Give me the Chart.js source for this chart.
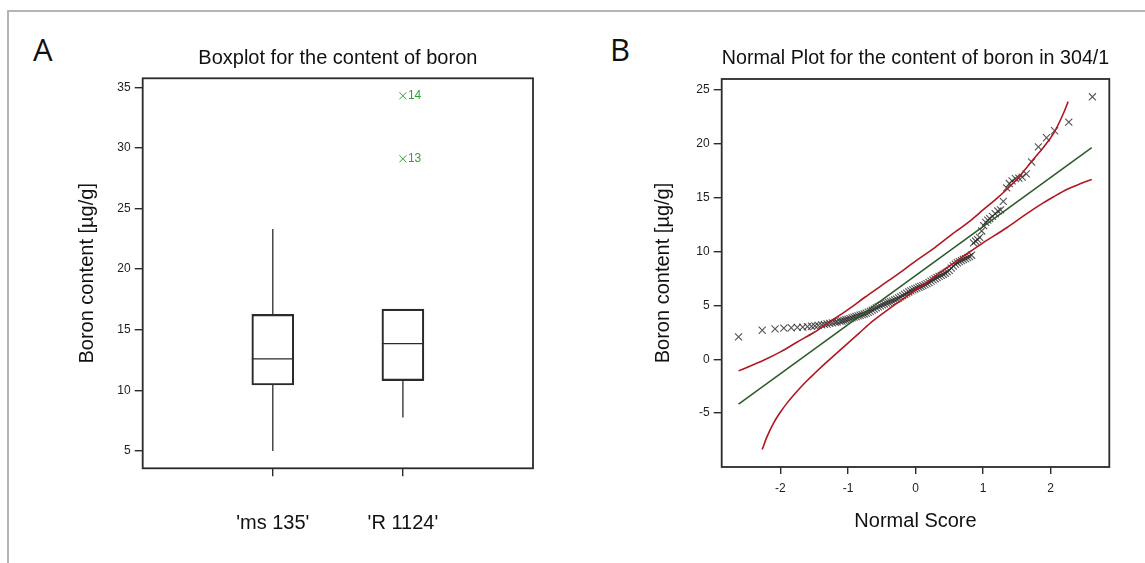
<!DOCTYPE html>
<html>
<head>
<meta charset="utf-8">
<script src="https://cdn.jsdelivr.net/npm/chart.js@4.4.1/dist/chart.umd.min.js"></script>
<style>
  html, body { margin: 0; padding: 0; background: #fff; }
  body { width: 1145px; height: 563px; position: relative; overflow: hidden; }
  .marco { position: absolute; left: 7px; top: 10px; right: -4px; bottom: -4px; border-top: 2px solid #b4b4b4; border-left: 2px solid #b4b4b4; }
  .letra { position: absolute; font-family: "Open Sans", sans-serif; font-size: 31px; line-height: 1; color: #111; }
  #panelA { position: absolute; left: 0; top: 0; }
  #panelB { position: absolute; left: 575px; top: 0; }
</style>
</head>
<body>
<div class="marco"></div>
<div class="letra" style="left:33px; top:34px;">A</div>
<div class="letra" style="left:610px; top:34px;">B</div>
<canvas id="panelA" width="575" height="563"></canvas>
<canvas id="panelB" width="570" height="563"></canvas>
<script>
// Panel A: diagrama de caja por cultivar
var cultivares = ["'ms 135'", "'R 1124'"];
var posiciones = [1, 2];
var minimos = [5.0, 7.77];
var cuartil1 = [10.44, 10.8];
var medianas = [12.6, 13.85];
var cuartil3 = [16.27, 16.7];
var maximos = [23.3, 16.7];
var atipicosPos = [2, 2];
var atipicosValor = [34.3, 29.1];
var atipicosId = ['14', '13'];
var ticksA = [5, 10, 15, 20, 25, 30, 35];

// Panel B: gráfico normal 304/1
var puntuacion = [-2.62, -2.27, -2.08, -1.95, -1.84, -1.75, -1.67, -1.60, -1.54, -1.49, -1.44, -1.39, -1.35, -1.31, -1.27,
  -1.23, -1.19, -1.16, -1.12, -1.09, -1.06, -1.03, -1.00, -0.97, -0.94, -0.91, -0.88, -0.85, -0.82, -0.79, -0.76, -0.73,
  -0.70, -0.67, -0.64, -0.61, -0.58, -0.55, -0.52, -0.49, -0.46, -0.43, -0.40, -0.37, -0.34, -0.31, -0.28, -0.25, -0.22,
  -0.19, -0.16, -0.13, -0.10, -0.07, -0.04, -0.01, 0.02, 0.05, 0.08, 0.11, 0.14, 0.17, 0.20, 0.23, 0.26, 0.29, 0.32,
  0.35, 0.38, 0.41, 0.44, 0.47, 0.50, 0.53, 0.56, 0.59, 0.62, 0.65, 0.68, 0.71, 0.74, 0.77, 0.80, 0.83, 0.86, 0.89,
  0.92, 0.95, 0.98, 1.01, 1.04, 1.07, 1.10, 1.14, 1.18, 1.22, 1.26, 1.30, 1.35, 1.39, 1.43, 1.48, 1.53, 1.58, 1.64,
  1.72, 1.82, 1.94, 2.06, 2.27, 2.62];
var boro = [2.07, 2.69, 2.82, 2.88, 2.92, 2.95, 2.98, 3.02, 3.06, 3.10, 3.14, 3.19, 3.23, 3.27, 3.32,
  3.37, 3.42, 3.46, 3.51, 3.55, 3.60, 3.66, 3.71, 3.77, 3.83, 3.90, 3.96, 4.02, 4.08, 4.14, 4.20, 4.28,
  4.36, 4.45, 4.55, 4.65, 4.76, 4.86, 4.95, 5.04, 5.12, 5.20, 5.27, 5.34, 5.42, 5.50, 5.58, 5.68, 5.79,
  5.90, 6.02, 6.13, 6.24, 6.34, 6.43, 6.52, 6.60, 6.68, 6.75, 6.83, 6.92, 7.02, 7.12, 7.24, 7.36, 7.47, 7.58,
  7.68, 7.78, 7.88, 7.98, 8.10, 8.25, 8.45, 8.65, 8.82, 8.95, 9.05, 9.15, 9.25, 9.33, 9.42, 9.52, 9.65, 10.80, 10.95,
  11.10, 11.30, 11.90, 12.40, 12.70, 12.90, 13.05, 13.25, 13.50, 13.75, 13.85, 14.65, 15.90, 16.30, 16.55, 16.75, 16.80, 16.90, 17.20,
  18.30, 19.70, 20.55, 21.20, 22.00, 24.35];
var rectaX = [-2.62, 2.61];
var rectaY = [-4.17, 19.64];
var superiorX = [-2.62, -2.25, -2.0, -1.75, -1.5, -1.25, -1.0, -0.75, -0.5, -0.25, 0, 0.25, 0.5, 0.8, 1.0, 1.2, 1.35, 1.5, 1.74, 1.9, 2.04, 2.19, 2.26];
var superiorY = [-1.08, -0.1, 0.68, 1.6, 2.5, 3.55, 4.6, 5.75, 6.85, 7.95, 9.1, 10.2, 11.4, 12.8, 13.85, 14.9, 15.75, 16.7, 18.5, 19.7, 20.9, 22.8, 23.9];
var inferiorX = [-2.27, -2.2, -2.1, -2.0, -1.9, -1.8, -1.7, -1.6, -1.5, -1.32, -1.0, -0.83, -0.63, -0.33, 0, 0.4, 0.8, 1.0, 1.35, 1.6, 1.84, 2.04, 2.24, 2.45, 2.61];
var inferiorY = [-8.38, -7.2, -5.9, -4.9, -4.05, -3.3, -2.6, -1.95, -1.35, -0.3, 1.5, 2.45, 3.55, 4.95, 6.4, 8.2, 9.95, 10.8, 12.2, 13.3, 14.3, 15.05, 15.75, 16.3, 16.67];
var ticksBX = [-2, -1, 0, 1, 2];
var ticksBY = [-5, 0, 5, 10, 15, 20, 25];

var fuente = '"Liberation Sans", Arial, sans-serif';
var tinta = '#2b2b2b';
var verde = '#35a035';
var rojo = '#b0181f';
var verdeOscuro = '#2a5a26';

function pares(xs, ys) {
    return xs.map(function (x, i) { return { x: x, y: ys[i] }; });
}

var marcoPlugin = {
    id: 'marco',
    afterDraw: function (chart) {
        var a = chart.chartArea;
        var ctx = chart.ctx;
        ctx.save();
        ctx.strokeStyle = tinta;
        ctx.lineWidth = 1.8;
        ctx.strokeRect(a.left, a.top, a.right - a.left, a.bottom - a.top);
        ctx.restore();
    }
};

var etiquetasPlugin = {
    id: 'etiquetas',
    afterDatasetsDraw: function (chart) {
        var meta = chart.getDatasetMeta(3);
        var ctx = chart.ctx;
        ctx.save();
        ctx.fillStyle = verde;
        ctx.font = '12px ' + fuente;
        ctx.textBaseline = 'middle';
        meta.data.forEach(function (p, i) {
            ctx.fillText(atipicosId[i], p.x + 5, p.y);
        });
        ctx.restore();
    }
};

function ejeY(min, max, valores, ancho, texto, relleno) {
    return {
        type: 'linear',
        min: min,
        max: max,
        afterBuildTicks: function (eje) { eje.ticks = valores.map(function (v) { return { value: v }; }); },
        afterFit: function (eje) { eje.width = ancho; },
        grid: { drawOnChartArea: false, tickLength: 8, color: tinta, lineWidth: 1.4 },
        border: { display: false },
        ticks: { padding: 4, color: '#1e1e1e', font: { size: 12, family: fuente } },
        title: { display: true, text: texto, color: '#111', font: { size: 20, family: fuente }, padding: { top: relleno, bottom: 0 } }
    };
}

function titulo(texto, abajo) {
    return {
        display: true,
        text: texto,
        fullSize: false,
        color: '#111',
        font: { size: 20, weight: 'normal', family: fuente },
        padding: { top: 46, bottom: abajo }
    };
}

// datos de las cajas y bigotes
var cajas = posiciones.map(function (p, i) { return { x: p, y: [cuartil1[i], cuartil3[i]] }; });
var bigotes = [];
for (var i = 0; i < posiciones.length; i++) {
    bigotes.push({ x: posiciones[i], y: cuartil3[i] }, { x: posiciones[i], y: maximos[i] }, { x: posiciones[i], y: null });
    bigotes.push({ x: posiciones[i], y: cuartil1[i] }, { x: posiciones[i], y: minimos[i] }, { x: posiciones[i], y: null });
}

new Chart(document.getElementById('panelA'), {
    type: 'bar',
    data: {
        datasets: [{
            type: 'bar',
            data: cajas,
            backgroundColor: 'rgba(255,255,255,0)',
            borderColor: tinta,
            borderWidth: 1.5,
            borderSkipped: false,
            barThickness: 42,
            grouped: false
        }, {
            type: 'line',
            data: bigotes,
            borderColor: tinta,
            borderWidth: 1.3,
            pointRadius: 0,
            spanGaps: false
        }, {
            type: 'scatter',
            data: pares(posiciones, medianas),
            pointStyle: 'line',
            pointRadius: 21,
            borderColor: tinta,
            borderWidth: 1.4
        }, {
            type: 'scatter',
            data: pares(atipicosPos, atipicosValor),
            pointStyle: 'crossRot',
            pointRadius: 5,
            borderColor: verde,
            borderWidth: 1
        }]
    },
    options: {
        responsive: false,
        animation: false,
        events: [],
        layout: { padding: { left: 0, right: 42, top: 0, bottom: 0 } },
        plugins: {
            legend: { display: false },
            tooltip: { enabled: false },
            title: titulo('Boxplot for the content of boron', 8.3)
        },
        scales: {
            x: {
                type: 'linear',
                min: 0,
                max: 3,
                offset: false,
                afterBuildTicks: function (eje) { eje.ticks = posiciones.map(function (v) { return { value: v }; }); },
                afterFit: function (eje) { eje.height = 94.7; },
                grid: { drawOnChartArea: false, offset: false, tickLength: 8, color: tinta, lineWidth: 1.4 },
                border: { display: false },
                ticks: {
                    padding: 35,
                    maxRotation: 0,
                    color: '#111',
                    font: { size: 20, family: fuente },
                    callback: function (v) { return cultivares[posiciones.indexOf(v)]; }
                }
            },
            y: ejeY(3.57, 35.74, ticksA, 142.7, 'Boron content [µg/g]', 75)
        }
    },
    plugins: [marcoPlugin, etiquetasPlugin]
});

new Chart(document.getElementById('panelB'), {
    type: 'scatter',
    data: {
        datasets: [{
            data: pares(puntuacion, boro),
            pointStyle: 'crossRot',
            pointRadius: 5,
            borderColor: 'rgba(40,40,40,0.8)',
            borderWidth: 1.1,
            order: 3
        }, {
            type: 'line',
            data: pares(rectaX, rectaY),
            borderColor: verdeOscuro,
            borderWidth: 1.5,
            pointRadius: 0,
            order: 1
        }, {
            type: 'line',
            data: pares(superiorX, superiorY),
            borderColor: rojo,
            borderWidth: 1.6,
            pointRadius: 0,
            cubicInterpolationMode: 'monotone',
            order: 1
        }, {
            type: 'line',
            data: pares(inferiorX, inferiorY),
            borderColor: rojo,
            borderWidth: 1.6,
            pointRadius: 0,
            cubicInterpolationMode: 'monotone',
            order: 1
        }]
    },
    options: {
        responsive: false,
        animation: false,
        events: [],
        layout: { padding: { left: 0, right: 35.7, top: 0, bottom: 0 } },
        plugins: {
            legend: { display: false },
            tooltip: { enabled: false },
            title: titulo('Normal Plot for the content of boron in 304/1', 9)
        },
        scales: {
            x: {
                type: 'linear',
                min: -2.87,
                max: 2.87,
                afterBuildTicks: function (eje) { eje.ticks = ticksBX.map(function (v) { return { value: v }; }); },
                afterFit: function (eje) { eje.height = 96; },
                grid: { drawOnChartArea: false, tickLength: 7, color: tinta, lineWidth: 1.4 },
                border: { display: false },
                ticks: { padding: 7, color: '#1e1e1e', font: { size: 12, family: fuente } },
                title: { display: true, text: 'Normal Score', color: '#111', font: { size: 20, family: fuente }, padding: { top: 0, bottom: 30 } }
            },
            y: ejeY(-10, 26, ticksBY, 146.7, 'Boron content [µg/g]', 76)
        }
    },
    plugins: [marcoPlugin]
});
</script>
</body>
</html>
